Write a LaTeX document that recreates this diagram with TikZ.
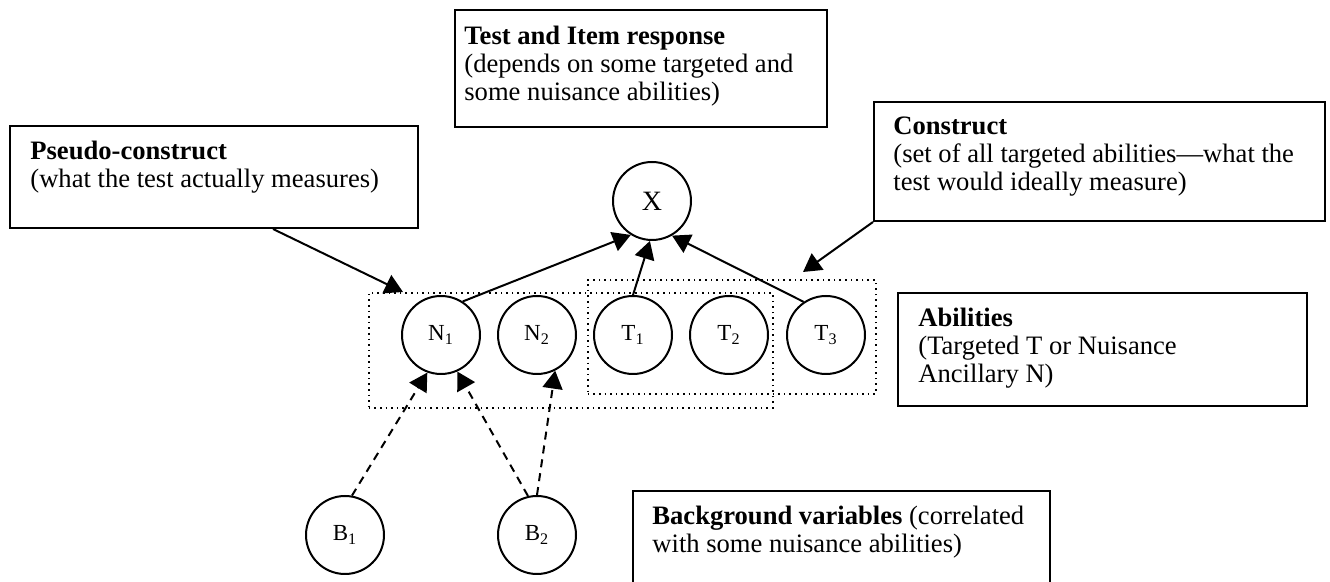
\documentclass[tikz,border=0pt]{standalone}
\usepackage{fontspec}
\setmainfont{Liberation Serif}
\usetikzlibrary{arrows.meta}
\begin{document}
\begin{tikzpicture}[x=0.5pt, y=-0.5pt,
          font=\fontsize{13.3}{14}\selectfont,
          labelbox/.style={draw, line width=1pt, anchor=north west, inner sep=0pt},
          boxtext/.style={anchor=north west, align=left, inner sep=0pt},
          var/.style={draw, circle, line width=1pt, minimum size=39pt, inner sep=0pt, font=\fontsize{11.5}{12}\selectfont},
          dotbox/.style={draw, dotted, line width=0.8pt, anchor=north west, inner sep=0pt},
          link/.style={line width=1pt, -{Triangle[length=9pt, width=10pt]}},
          dashlink/.style={link, dash pattern=on 4pt off 3pt}]
        \useasboundingbox (0,0) rectangle (1330,582);
        \node[labelbox, minimum width=186pt, minimum height=58.5pt] (testbox) at (454,9) {};
        \node[boxtext] (testtext) at (464,26) {\textbf{Test and Item response}\\(depends on some targeted and\\some nuisance abilities)};
        \node[labelbox, minimum width=204pt, minimum height=51pt] (pseudobox) at (9,125) {};
        \node[boxtext] (pseudotext) at (30,141) {\textbf{Pseudo-construct}\\(what the test actually measures)};
        \node[labelbox, minimum width=225.5pt, minimum height=59.5pt] (constructbox) at (873,101) {};
        \node[boxtext] (constructtext) at (893,116) {\textbf{Construct}\\(set of all targeted abilities---what the\\test would ideally measure)};
        \node[labelbox, minimum width=204.5pt, minimum height=56.5pt] (abilitiesbox) at (897,292) {};
        \node[boxtext] (abilitiestext) at (918,308) {\textbf{Abilities}\\(Targeted T or Nuisance\\Ancillary N)};
        \node[labelbox, minimum width=208.5pt, minimum height=48pt] (backgroundbox) at (632,490) {};
        \node[boxtext] (backgroundtext) at (652,506) {\textbf{Background variables} (correlated\\with some nuisance abilities)};
        \node[dotbox, minimum width=202pt, minimum height=57.5pt] (pseudoset) at (368,292) {};
        \node[dotbox, minimum width=144pt, minimum height=57pt] (constructset) at (587,279) {};
        \node[var, font=\fontsize{14}{15}\selectfont] (x) at (652,201) {X};
        \node[var] (n1) at (441,335) {N\textsubscript{1}};
        \node[var] (n2) at (537,335) {N\textsubscript{2}};
        \node[var] (t1) at (633,335) {T\textsubscript{1}};
        \node[var] (t2) at (729,335) {T\textsubscript{2}};
        \node[var] (t3) at (826,335) {T\textsubscript{3}};
        \node[var] (b1) at (345,535) {B\textsubscript{1}};
        \node[var] (b2) at (537,535) {B\textsubscript{2}};
        \draw[link] ([xshift=132pt]pseudobox.south west) -- ([xshift=17.5pt]pseudoset.north west);
        \draw[link] (constructbox.south west) -- ([xshift=108pt, yshift=3.5pt]constructset.north west);
        \draw[link] (n1.57) -- (x.238);
        \draw[link] (t1.north) -- (x.267);
        \draw[link] (t3.124) -- (x.300);
        \draw[dashlink] (b1.80) -- (n1.250);
        \draw[dashlink] (b2.103) -- (n1.294);
        \draw[dashlink] (b2.north) -- (n2.297);
      \end{tikzpicture}
\end{document}
